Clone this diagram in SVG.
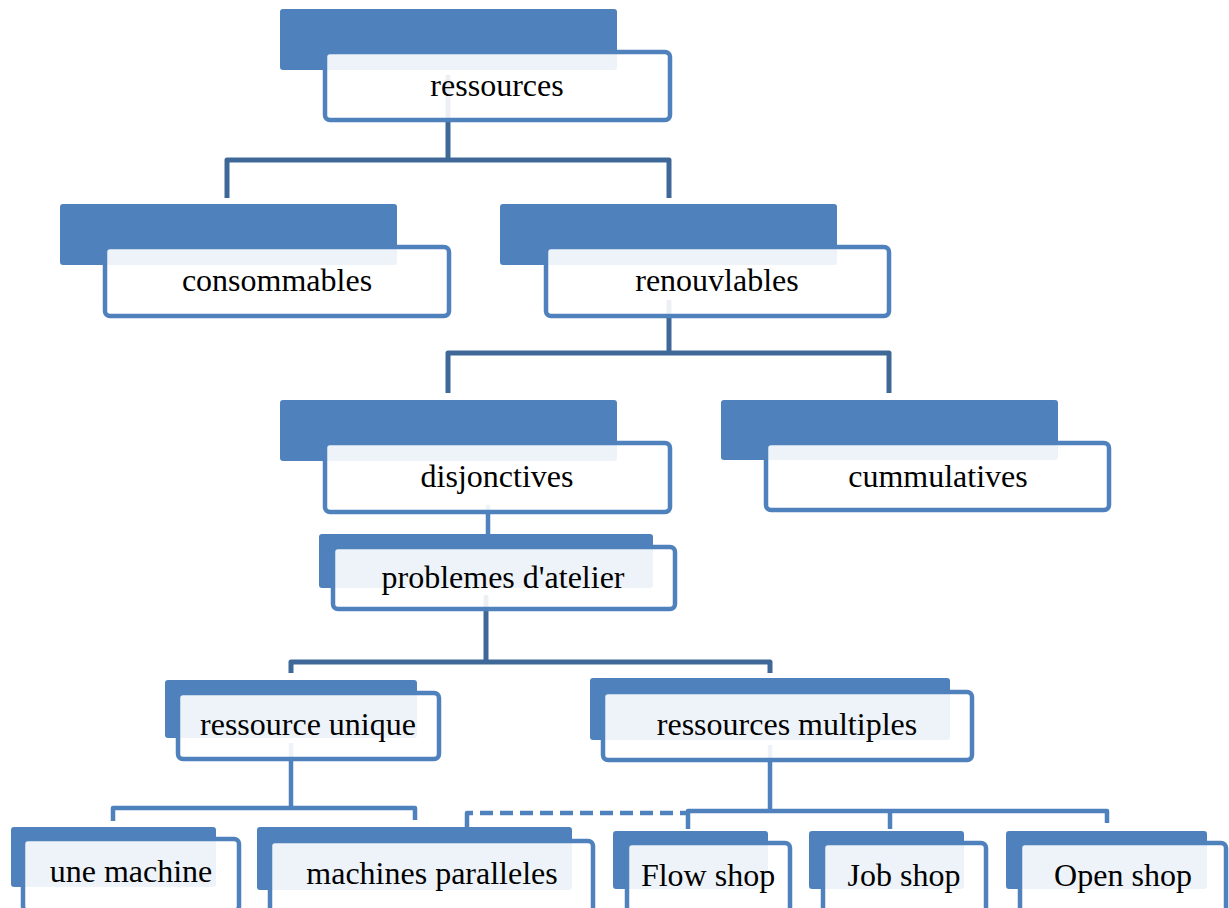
<svg xmlns="http://www.w3.org/2000/svg" width="1229" height="908" viewBox="0 0 1229 908">
  <style>
    .back { fill: #4F81BD; }
    .box { fill: #FFFFFF; fill-opacity: 0.9; stroke: #4F81BD; stroke-width: 4.5; }
    .lbl { font-family: "Liberation Serif", "Times New Roman", serif; font-size: 32px; text-anchor: middle; fill: #000000; }
    .wire { fill: none; stroke: #4F81BD; stroke-width: 4.5; stroke-linejoin: round; }
    .wire.dark { stroke: #3F6899; stroke-width: 5; }
    .wire.dash { stroke-dasharray: 13 7; }
  </style>

  <!-- connectors (drawn beneath the nodes so the translucent boxes let them show through faintly) -->
  <g id="connectors">
    <path class="wire dark" d="M448,75 V160"/>
    <path class="wire dark" d="M227,198 V160 H669 V198"/>
    <path class="wire dark" d="M669,300 V353"/>
    <path class="wire dark" d="M448,393 V353 H889 V393"/>
    <path class="wire" d="M488,505 V536"/>
    <path class="wire dark" d="M486,595 V662"/>
    <path class="wire dark" d="M291,673 V662 H770 V673"/>
    <path class="wire" d="M291,743 V808"/>
    <path class="wire" d="M113,821 V808 H415 V820"/>
    <path class="wire" d="M770,745 V811"/>
    <path class="wire" d="M688,829 V811 H1107 V823"/>
    <path class="wire" d="M890,811 V829"/>
    <path class="wire" d="M467,827 V813 H473"/>
    <path class="wire dash" d="M480,813 H688"/>
  </g>

  <g id="n-ressources">
    <rect class="back" x="280" y="9" width="337" height="61" rx="3"/>
    <rect class="box" x="325" y="52" width="345" height="68" rx="5"/>
    <text class="lbl" x="497" y="96">ressources</text>
  </g>

  <g id="n-consommables">
    <rect class="back" x="60" y="204" width="337" height="61" rx="3"/>
    <rect class="box" x="105" y="247" width="344" height="69" rx="5"/>
    <text class="lbl" x="277" y="291">consommables</text>
  </g>

  <g id="n-renouvlables">
    <rect class="back" x="500" y="204" width="337" height="61" rx="3"/>
    <rect class="box" x="546" y="247" width="343" height="69" rx="5"/>
    <text class="lbl" x="717" y="291">renouvlables</text>
  </g>

  <g id="n-disjonctives">
    <rect class="back" x="280" y="400" width="337" height="61" rx="3"/>
    <rect class="box" x="325" y="443" width="345" height="69" rx="5"/>
    <text class="lbl" x="497" y="487">disjonctives</text>
  </g>

  <g id="n-cummulatives">
    <rect class="back" x="721" y="400" width="337" height="60" rx="3"/>
    <rect class="box" x="766" y="443" width="343" height="67" rx="5"/>
    <text class="lbl" x="938" y="487">cummulatives</text>
  </g>

  <g id="n-problemes">
    <rect class="back" x="319" y="534" width="334" height="54" rx="3"/>
    <rect class="box" x="333" y="547" width="342" height="62" rx="5"/>
    <text class="lbl" x="503" y="588">problemes d'atelier</text>
  </g>

  <g id="n-ressource-unique">
    <rect class="back" x="165" y="680" width="252" height="58" rx="3"/>
    <rect class="box" x="178" y="693" width="261" height="66" rx="5"/>
    <text class="lbl" x="308" y="735">ressource unique</text>
  </g>

  <g id="n-ressources-multiples">
    <rect class="back" x="590" y="678" width="360" height="62" rx="3"/>
    <rect class="box" x="603" y="692" width="369" height="68" rx="5"/>
    <text class="lbl" x="787" y="735">ressources multiples</text>
  </g>

  <g id="n-une-machine">
    <rect class="back" x="11" y="827" width="205" height="60" rx="3"/>
    <rect class="box" x="23" y="839" width="216" height="72" rx="5"/>
    <text class="lbl" x="131" y="882">une machine</text>
  </g>

  <g id="n-machines-paralleles">
    <rect class="back" x="257" y="827" width="315" height="63" rx="3"/>
    <rect class="box" x="270" y="841" width="323" height="72" rx="5"/>
    <text class="lbl" x="432" y="884">machines paralleles</text>
  </g>

  <g id="n-flow-shop">
    <rect class="back" x="613" y="831" width="155" height="58" rx="3"/>
    <rect class="box" x="627" y="843" width="163" height="70" rx="5"/>
    <text class="lbl" x="708" y="886">Flow shop</text>
  </g>

  <g id="n-job-shop">
    <rect class="back" x="809" y="831" width="155" height="58" rx="3"/>
    <rect class="box" x="823" y="843" width="163" height="70" rx="5"/>
    <text class="lbl" x="904" y="886">Job shop</text>
  </g>

  <g id="n-open-shop">
    <rect class="back" x="1006" y="831" width="201" height="58" rx="3"/>
    <rect class="box" x="1020" y="843" width="206" height="70" rx="5"/>
    <text class="lbl" x="1123" y="886">Open shop</text>
  </g>
</svg>
